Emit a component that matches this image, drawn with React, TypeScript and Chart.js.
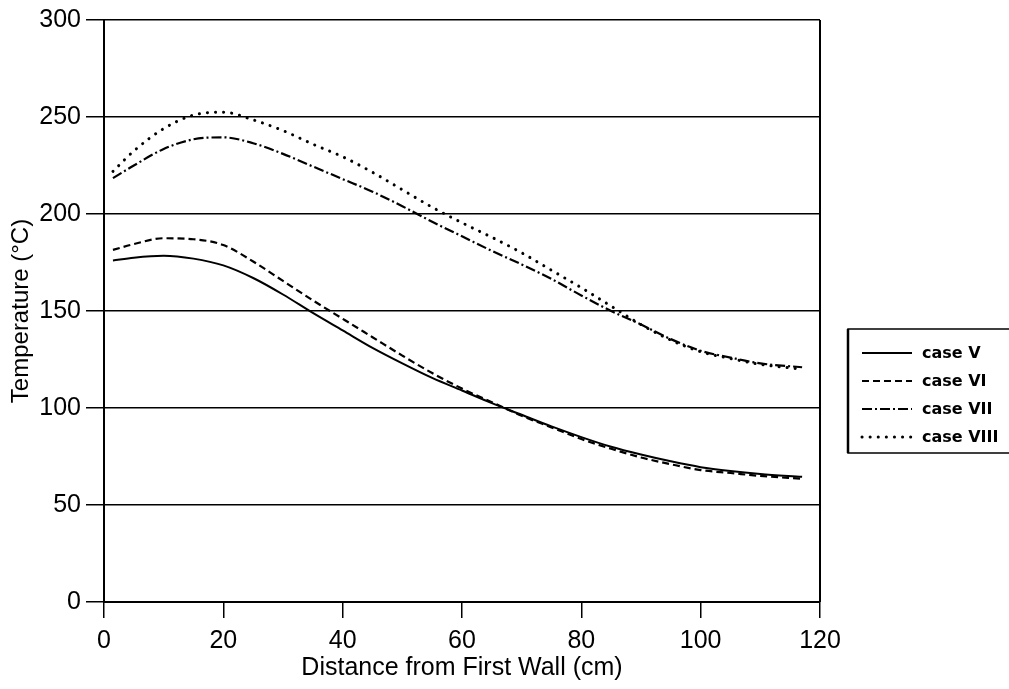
import React, { useEffect, useRef } from "react";
import { Chart, registerables } from "chart.js";

Chart.register(...registerables);

const distance = [1.5, 5, 10, 15, 20, 25, 30, 35, 40, 45, 50, 55, 60, 65, 70, 75, 80, 85, 90, 95, 100, 105, 110, 117];
const caseV = [176, 177.5, 178.5, 177, 173.5, 167, 158.5, 149, 140, 131, 123, 115.5, 109, 102.5, 96.5, 90.5, 85, 80, 76, 72.5, 69.5, 67.5, 66, 64.5];
const caseVI = [181.5, 184.5, 187.5, 187, 184, 175.5, 165.5, 155.5, 146, 136.5, 127, 118, 110, 103, 96, 90, 84, 79, 74.5, 71, 68, 66.5, 65, 63.5];
const caseVII = [218.5, 225, 233.5, 238.5, 239.5, 236.5, 231, 224.5, 218, 211.5, 204, 196, 188.5, 181, 174, 166.5, 158, 150, 143, 135.5, 129.5, 126, 123, 121];
const caseVIII = [222, 232.5, 244, 251, 252.5, 248.5, 243, 236, 229.5, 221.5, 212.5, 203.5, 195.5, 188, 180, 171, 162, 152.5, 143, 135, 129, 125.5, 122.5, 120];
const seriesNames = ["case V", "case VI", "case VII", "case VIII"];
const xTicks = [0, 20, 40, 60, 80, 100, 120];
const yTicks = [0, 50, 100, 150, 200, 250, 300];

const FONT = "'Liberation Sans', Arial, Helvetica, sans-serif";

const styles = [
  { dash: [] as number[], width: 2, cap: "butt" as CanvasLineCap },
  { dash: [7, 4], width: 2.2, cap: "butt" as CanvasLineCap },
  { dash: [10, 3, 2, 3], width: 2.2, cap: "butt" as CanvasLineCap },
  { dash: [0.1, 8], width: 3, cap: "round" as CanvasLineCap },
];

const framePlugin = {
  id: "frameAndLegend",
  afterDraw(chart: any) {
    const ctx = chart.ctx as CanvasRenderingContext2D;
    const area = chart.chartArea;
    ctx.save();
    ctx.strokeStyle = "#000";
    ctx.lineWidth = 2;
    ctx.beginPath();
    ctx.moveTo(area.right, area.top);
    ctx.lineTo(area.right, area.bottom);
    ctx.stroke();

    const bx = 848, by = 329, bw = 170, bh = 124;
    ctx.lineWidth = 1.5;
    ctx.strokeRect(bx, by, bw, bh);
    ctx.lineWidth = 2.5;
    ctx.beginPath();
    ctx.moveTo(bx, by);
    ctx.lineTo(bx, by + bh);
    ctx.stroke();

    const rowY = [353, 381, 409, 437];
    ctx.font = `bold 16px 'DejaVu Sans', ${FONT}`;
    ctx.textBaseline = "middle";
    ctx.fillStyle = "#000";
    seriesNames.forEach((name, i) => {
      const s = styles[i];
      ctx.lineWidth = s.width;
      ctx.lineCap = s.cap;
      ctx.setLineDash(s.dash);
      ctx.beginPath();
      ctx.moveTo(862, rowY[i]);
      ctx.lineTo(912, rowY[i]);
      ctx.stroke();
      ctx.setLineDash([]);
      ctx.lineCap = "butt";
      ctx.fillText(name, 922, rowY[i] + 1);
    });
    ctx.restore();
  },
};

export default function App() {
  const ref = useRef<HTMLCanvasElement>(null);
  useEffect(() => {
    if (!ref.current) return;
    const datasets = [caseV, caseVI, caseVII, caseVIII].map((vals, i) => ({
      label: seriesNames[i],
      data: vals.map((v, j) => ({ x: distance[j], y: v })),
      borderColor: "#000",
      backgroundColor: "#000",
      borderWidth: styles[i].width,
      borderDash: styles[i].dash,
      borderCapStyle: styles[i].cap,
      pointRadius: 0,
      tension: 0.4,
      cubicInterpolationMode: "monotone" as const,
      fill: false,
    }));
    const chart = new Chart(ref.current, {
      type: "line",
      data: { datasets },
      options: {
        animation: false,
        responsive: true,
        maintainAspectRatio: false,
        layout: { padding: { left: 0, top: 19, right: 189, bottom: 0 } },
        plugins: { legend: { display: false }, tooltip: { enabled: false } },
        scales: {
          x: {
            type: "linear",
            min: 0,
            max: 120,
            afterBuildTicks: (scale: any) => {
              scale.ticks = xTicks.map((v) => ({ value: v }));
            },
            afterFit: (scale: any) => {
              scale.height = 87;
            },
            ticks: {
              color: "#000",
              font: { family: FONT, size: 25 },
              padding: 8,
              maxRotation: 0,
            },
            grid: {
              display: true,
              drawOnChartArea: false,
              drawTicks: true,
              tickLength: 16,
              color: "#000",
              lineWidth: 1.5,
            },
            border: { display: true, color: "#000", width: 2 },
            title: {
              display: true,
              text: "Distance from First Wall (cm)",
              color: "#000",
              font: { family: FONT, size: 25 },
              padding: { top: 0, bottom: 6 },
            },
          },
          y: {
            type: "linear",
            min: 0,
            max: 300,
            afterBuildTicks: (scale: any) => {
              scale.ticks = yTicks.map((v) => ({ value: v }));
            },
            afterFit: (scale: any) => {
              scale.width = 104;
            },
            ticks: {
              color: "#000",
              font: { family: FONT, size: 25 },
              padding: 5,
            },
            grid: {
              display: true,
              drawOnChartArea: true,
              drawTicks: true,
              tickLength: 18,
              color: "#000",
              lineWidth: 1.5,
            },
            border: { display: true, color: "#000", width: 2 },
            title: {
              display: true,
              text: "Temperature (°C)",
              color: "#000",
              font: { family: FONT, size: 24 },
              padding: { top: 7, bottom: 0 },
            },
          },
        },
      },
      plugins: [framePlugin],
    });
    return () => chart.destroy();
  }, []);
  return (
    <div style={{ position: "fixed", left: 0, top: 0, width: 1009, height: 689, background: "#fff" }}>
      <canvas ref={ref} />
    </div>
  );
}
